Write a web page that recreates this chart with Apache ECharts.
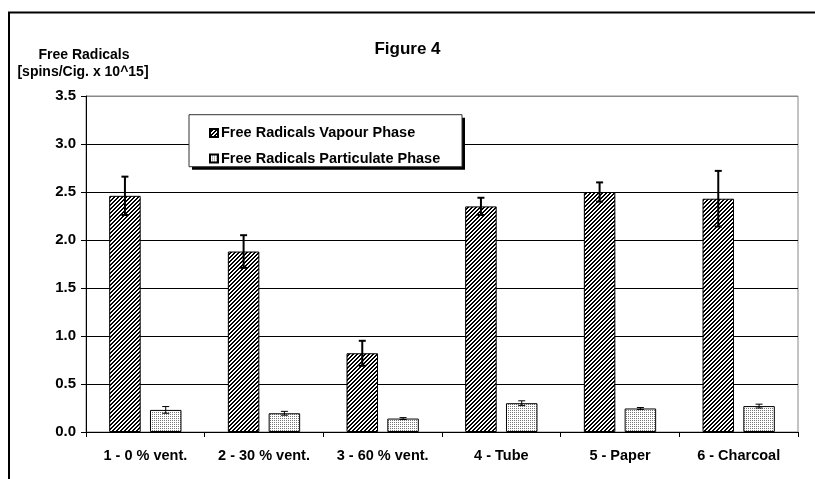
<!DOCTYPE html>
<html>
<head>
<meta charset="utf-8">
<script src="https://cdn.jsdelivr.net/npm/echarts@6/dist/echarts.min.js"></script>
<style>
html,body{margin:0;padding:0;background:#fff;}
#chart{width:815px;height:479px;}
</style>
</head>
<body>
<div id="chart"></div>
<script>
const categories = ['1 - 0 % vent.', '2 - 30 % vent.', '3 - 60 % vent.', '4 - Tube', '5 - Paper', '6 - Charcoal'];
const vapour = [2.46, 1.88, 0.82, 2.35, 2.50, 2.43];
const vapourErr = [0.20, 0.17, 0.13, 0.09, 0.10, 0.29];
const particulate = [0.23, 0.195, 0.14, 0.30, 0.245, 0.27];
const particulateErr = [0.035, 0.02, 0.01, 0.025, 0.01, 0.02];
const yTicks = [0.0, 0.5, 1.0, 1.5, 2.0, 2.5, 3.0, 3.5];

const FONT = '"Liberation Sans", Arial, sans-serif';

function makeHatch() {
  const c = document.createElement('canvas');
  c.width = 4; c.height = 4;
  const ctx = c.getContext('2d');
  ctx.fillStyle = '#fff'; ctx.fillRect(0, 0, 4, 4);
  ctx.fillStyle = '#000';
  for (let x = 0; x < 4; x++) for (let y = 0; y < 4; y++) {
    const k = (x + y) % 4;
    if (k === 2 || k === 3) ctx.fillRect(x, y, 1, 1);
  }
  return c;
}
function makeStipple() {
  const c = document.createElement('canvas');
  c.width = 2; c.height = 2;
  const ctx = c.getContext('2d');
  ctx.fillStyle = '#fff'; ctx.fillRect(0, 0, 2, 2);
  ctx.fillStyle = '#777';
  ctx.fillRect(0, 0, 1, 1);
  return c;
}
const hatch = { image: makeHatch(), repeat: 'repeat' };
const stipple = { image: makeStipple(), repeat: 'repeat' };

const BAR_W = 31.5;
const BAR_GAP = 9.3;
const OFF = (BAR_W + BAR_GAP) / 2;

function errRender(offset, lw, cap) {
  return function (params, api) {
    const i = api.value(0);
    const lo = api.coord([i, api.value(1)]);
    const hi = api.coord([i, api.value(2)]);
    const x = lo[0] + offset;
    const st = { stroke: '#000', lineWidth: lw };
    return {
      type: 'group',
      children: [
        { type: 'line', shape: { x1: x, y1: lo[1], x2: x, y2: hi[1] }, style: st },
        { type: 'line', shape: { x1: x - cap / 2, y1: hi[1], x2: x + cap / 2, y2: hi[1] }, style: st },
        { type: 'line', shape: { x1: x - cap / 2, y1: lo[1], x2: x + cap / 2, y2: lo[1] }, style: st }
      ]
    };
  };
}

const vapourErrData = vapour.map((v, i) => [i, v - vapourErr[i], v + vapourErr[i]]);
const partErrData = particulate.map((v, i) => [i, v - particulateErr[i], v + particulateErr[i]]);

const chart = echarts.init(document.getElementById('chart'), null, { renderer: 'canvas' });
chart.setOption({
  animation: false,
  backgroundColor: '#fff',
  title: {
    text: 'Figure 4',
    left: 'center',
    top: 36,
    textStyle: { fontFamily: FONT, fontWeight: 'bold', fontSize: 17, color: '#000' }
  },
  grid: {
    left: 86, right: 17, top: 96, bottom: 47,
    show: true, borderColor: '#888', borderWidth: 1, backgroundColor: 'transparent'
  },
  legend: {
    orient: 'vertical',
    left: 209, top: 125,
    padding: 0,
    itemWidth: 8, itemHeight: 8, itemGap: 9.6,
    icon: 'rect',
    z: 10,
    data: ['Free Radicals Vapour Phase', 'Free Radicals Particulate Phase'],
    textStyle: { fontFamily: FONT, fontWeight: 'bold', fontSize: 14.5, color: '#000', padding: [0, 0, 0, -2], lineHeight: 16 }
  },
  xAxis: {
    type: 'category',
    data: categories,
    axisLine: { show: true, lineStyle: { color: '#000', width: 1 } },
    axisTick: { show: true, length: 5, lineStyle: { color: '#000' } },
    axisLabel: { interval: 0, hideOverlap: false, margin: 16, fontFamily: FONT, fontWeight: 'bold', fontSize: 14.5, color: '#000' },
    splitLine: { show: false }
  },
  yAxis: {
    type: 'value',
    min: 0, max: 3.5, interval: 0.5,
    axisLine: { show: true, lineStyle: { color: '#000', width: 1 } },
    axisTick: { show: true, length: 5, lineStyle: { color: '#000' } },
    axisLabel: {
      margin: 10, fontFamily: FONT, fontWeight: 'bold', fontSize: 15, color: '#000',
      formatter: v => v.toFixed(1)
    },
    splitLine: { show: true, lineStyle: { color: ['#000', '#000', '#000', '#000', '#000', '#000', '#000', '#888'], width: 1 } }
  },
  graphic: [
    { type: 'rect', z: 100, silent: true, shape: { x: 9, y: 12.5, width: 1000, height: 1000 }, style: { fill: 'none', stroke: '#000', lineWidth: 2 } },
    { type: 'rect', z: 5, silent: true, shape: { x: 192, y: 117.7, width: 273, height: 52 }, style: { fill: '#000' } },
    { type: 'rect', z: 6, silent: true, shape: { x: 189, y: 114.7, width: 273, height: 52 }, style: { fill: '#fff', stroke: '#333', lineWidth: 1 } },
    { type: 'text', z: 6, silent: true, style: { text: 'Free Radicals', x: 84, y: 55, align: 'center', verticalAlign: 'middle', font: 'bold 14px ' + FONT, fill: '#000' } },
    { type: 'text', z: 6, silent: true, style: { text: '[spins/Cig. x 10^15]', x: 83, y: 72, align: 'center', verticalAlign: 'middle', font: 'bold 14px ' + FONT, fill: '#000' } }
  ],
  series: [
    {
      name: 'Free Radicals Vapour Phase',
      type: 'bar',
      data: vapour,
      barWidth: BAR_W,
      barGap: (BAR_GAP / BAR_W * 100).toFixed(1) + '%',
      itemStyle: { color: hatch, borderColor: '#000', borderWidth: 1 },
      z: 3
    },
    {
      name: 'Free Radicals Particulate Phase',
      type: 'bar',
      data: particulate,
      barWidth: BAR_W,
      itemStyle: { color: stipple, borderColor: '#000', borderWidth: 1 },
      z: 3
    },
    {
      type: 'custom',
      data: vapourErrData,
      renderItem: errRender(-OFF, 2, 7),
      encode: { x: 0, y: [1, 2] },
      z: 4
    },
    {
      type: 'custom',
      data: partErrData,
      renderItem: errRender(OFF, 1, 7),
      encode: { x: 0, y: [1, 2] },
      z: 4
    }
  ]
});
</script>
</body>
</html>
